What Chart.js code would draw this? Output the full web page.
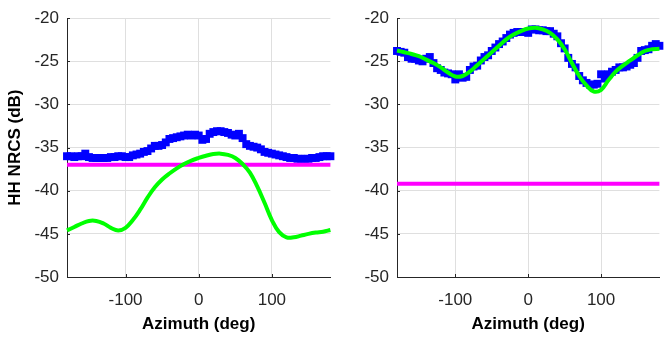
<!DOCTYPE html>
<html>
<head>
    <title>HH NRCS vs azimuth</title>
    <script src="https://cdn.jsdelivr.net/npm/chart.js"></script>
    <style>
        body { margin: 0; background: #fff; }
        canvas { position: absolute; top: 0; }
    </style>
</head>
<body>
    <canvas id="leftChart" width="336" height="337" style="left:0"></canvas>
    <canvas id="rightChart" width="329" height="337" style="left:336px"></canvas>
    <script>
        // azimuth grids (deg)
        const azimuthMeas = [-180,-175,-170,-165,-160,-155,-150,-145,-140,-135,
            -130,-125,-120,-115,-110,-105,-100,-95,-90,-85,
            -80,-75,-70,-65,-60,-55,-50,-45,-40,-35,
            -30,-25,-20,-15,-10,-5,0,5,10,15,
            20,25,30,35,40,45,50,55,60,65,
            70,75,80,85,90,95,100,105,110,115,
            120,125,130,135,140,145,150,155,160,165,
            170,175,180];
        const azimuthModel = [-180,-170,-160,-150,-140,-130,-120,-110,-100,-90,
            -80,-70,-60,-50,-40,-30,-20,-10,0,10,
            20,30,40,50,60,70,80,90,100,110,
            120,130,140,150,160,170,180];

        // left panel
        const leftMeasured = [-36.0,-36.0,-36.1,-36.0,-36.0,-35.7,-36.1,-36.2,-36.2,-36.2,
            -36.2,-36.2,-36.1,-36.1,-36.0,-36.0,-36.1,-36.1,-35.9,-35.8,
            -35.7,-35.5,-35.4,-35.1,-34.8,-34.8,-34.7,-34.4,-34.0,-33.9,
            -33.8,-33.7,-33.6,-33.5,-33.6,-33.5,-33.6,-34.1,-34.0,-33.4,
            -33.2,-33.1,-33.1,-33.2,-33.3,-33.5,-33.6,-33.4,-33.9,-34.6,
            -34.8,-34.9,-35.0,-35.2,-35.5,-35.6,-35.7,-35.8,-35.9,-36.0,
            -36.1,-36.2,-36.2,-36.3,-36.3,-36.3,-36.3,-36.2,-36.2,-36.1,
            -36.0,-36.0,-36.0];
        const leftModel = [-44.6,-44.2,-43.8,-43.5,-43.5,-43.8,-44.3,-44.6,-44.3,-43.4,
            -42.2,-40.8,-39.6,-38.7,-38.0,-37.4,-36.9,-36.5,-36.2,-35.95,
            -35.75,-35.7,-35.85,-36.2,-36.9,-37.9,-39.5,-41.4,-43.4,-44.8,
            -45.4,-45.4,-45.2,-45.0,-44.85,-44.75,-44.55];
        const leftFloor = -37.0;

        // right panel
        const rightMeasured = [-23.8,-23.9,-24.0,-24.5,-24.7,-24.7,-24.9,-25.0,-24.7,-24.5,
            -25.2,-25.8,-26.0,-26.3,-26.4,-26.5,-27.1,-26.5,-26.9,-26.8,
            -26.0,-25.6,-25.5,-24.9,-24.5,-24.3,-23.8,-23.4,-23.0,-22.7,
            -22.3,-21.9,-21.7,-21.6,-21.6,-21.6,-21.7,-21.3,-21.3,-21.4,
            -21.4,-21.5,-21.5,-21.8,-22.1,-22.9,-23.5,-24.6,-25.3,-25.7,
            -26.7,-27.2,-27.5,-27.7,-27.7,-27.6,-26.5,-27.0,-26.5,-26.2,
            -26.0,-25.7,-25.7,-25.6,-25.4,-25.2,-24.6,-23.8,-23.7,-23.6,
            -23.2,-23.0,-23.2];
        const rightModel = [-23.75,-23.95,-24.15,-24.4,-24.8,-25.2,-25.7,-26.3,-26.75,-26.7,
            -26.2,-25.45,-24.7,-23.95,-23.2,-22.45,-21.9,-21.5,-21.2,-21.1,
            -21.3,-21.7,-22.45,-23.6,-25.2,-26.7,-27.8,-28.5,-28.3,-27.2,
            -26.2,-25.5,-24.9,-24.3,-23.8,-23.6,-23.55];
        const rightFloor = -39.2;

        const xTicks = [-100, 0, 100];
        const xRange = [-180, 180];
        const yRange = [-50, -20];

        Chart.defaults.font.family = '"Liberation Sans", Arial, sans-serif';
        Chart.defaults.color = '#262626';

        // MATLAB style inward tick marks
        const innerTicks = {
            id: 'innerTicks',
            beforeDatasetsDraw(chart) {
                const { ctx, chartArea: a, scales: { x, y } } = chart;
                ctx.save();
                ctx.strokeStyle = '#262626';
                ctx.lineWidth = 1;
                ctx.beginPath();
                x.ticks.forEach(t => {
                    const px = Math.round(x.getPixelForValue(t.value)) + 0.5;
                    ctx.moveTo(px, a.bottom);
                    ctx.lineTo(px, a.bottom - 3);
                });
                y.ticks.forEach(t => {
                    const py = Math.round(y.getPixelForValue(t.value)) + 0.5;
                    ctx.moveTo(a.left, py);
                    ctx.lineTo(a.left + 3, py);
                });
                ctx.stroke();
                ctx.restore();
            }
        };

        function makePanel(id, measured, model, floor, yTitle, yWidth) {
            const ctx = document.getElementById(id).getContext('2d');
            return new Chart(ctx, {
                type: 'line',
                data: {
                    datasets: [{
                        data: model.map((v, i) => ({ x: azimuthModel[i], y: v })),
                        borderColor: '#00ff00',
                        borderWidth: 4,
                        pointRadius: 0,
                        tension: 0.4,
                        clip: false,
                        order: 1
                    }, {
                        data: xRange.map(a => ({ x: a, y: floor })),
                        borderColor: '#ff00ff',
                        borderWidth: 4,
                        pointRadius: 0,
                        clip: false,
                        order: 2
                    }, {
                        data: measured.map((v, i) => ({ x: azimuthMeas[i], y: v })),
                        showLine: false,
                        pointStyle: 'rect',
                        pointRadius: 5.6,
                        pointBorderWidth: 0,
                        backgroundColor: '#0000ff',
                        borderColor: '#0000ff',
                        clip: false,
                        order: 3
                    }]
                },
                plugins: [innerTicks],
                options: {
                    responsive: false,
                    animation: false,
                    layout: { padding: { top: 12, right: 0, left: 0, bottom: 0 } },
                    plugins: { legend: { display: false }, tooltip: { enabled: false } },
                    scales: {
                        x: {
                            type: 'linear',
                            min: xRange[0],
                            max: xRange[1],
                            afterBuildTicks: s => { s.ticks = xTicks.map(v => ({ value: v })); },
                            afterFit: s => { s.height = 60; },
                            ticks: { font: { size: 17 }, padding: 13, maxRotation: 0 },
                            grid: { color: '#dfdfdf', drawTicks: false },
                            border: { display: true, color: '#262626', width: 1 },
                            title: {
                                display: true,
                                text: 'Azimuth (deg)',
                                color: '#000',
                                font: { size: 17, weight: 'bold' },
                                padding: { top: 0, bottom: 2 }
                            }
                        },
                        y: {
                            min: yRange[0],
                            max: yRange[1],
                            afterFit: s => { s.width = yWidth; },
                            ticks: { stepSize: 5, font: { size: 17 }, padding: 8 },
                            grid: { color: '#dfdfdf', drawTicks: false },
                            border: { display: true, color: '#262626', width: 1 },
                            title: {
                                display: !!yTitle,
                                text: yTitle,
                                color: '#000',
                                font: { size: 17, weight: 'bold' },
                                padding: { top: 5, bottom: 0 }
                            }
                        }
                    }
                }
            });
        }

        makePanel('leftChart', leftMeasured, leftModel, leftFloor, 'HH NRCS (dB)', 67);
        makePanel('rightChart', rightMeasured, rightModel, rightFloor, '', 61);
    </script>
</body>
</html>
